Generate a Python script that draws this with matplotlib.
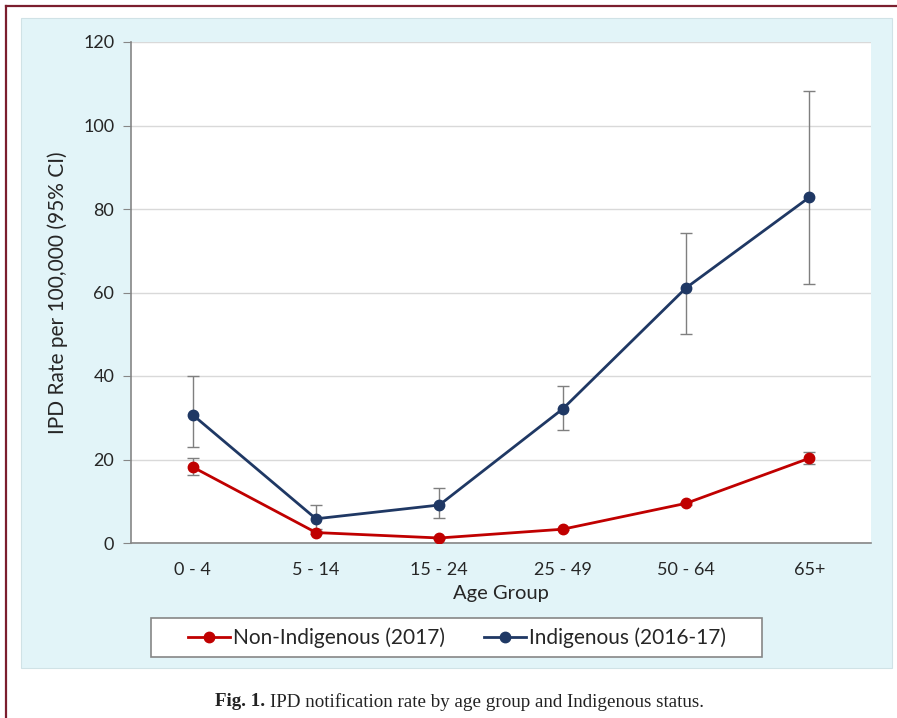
import matplotlib
matplotlib.use("Agg")
import matplotlib.pyplot as plt
from matplotlib.patches import Rectangle
from matplotlib.lines import Line2D

age_groups = ["0 - 4", "5 - 14", "15 - 24", "25 - 49", "50 - 64", "65+"]

indig_rate = [30.7, 5.8, 9.1, 32.1, 61.1, 82.8]
indig_low = [23.0, 3.4, 6.0, 27.1, 50.0, 62.0]
indig_high = [40.0, 9.1, 13.2, 37.6, 74.3, 108.3]

nonindig_rate = [18.2, 2.5, 1.2, 3.3, 9.5, 20.3]
nonindig_low = [16.2, 2.2, 1.0, 3.1, 9.1, 18.9]
nonindig_high = [20.3, 2.8, 1.4, 3.5, 9.9, 21.7]

BLUE = "#1f3864"
RED = "#c00000"
GREY = "#7f7f7f"
TXT = "#262626"
FONT = "Lato"
W, H = 897, 718

fig = plt.figure(figsize=(W / 100, H / 100), dpi=100)

# page frame (top and left rules) and light blue chart panel
fig.add_artist(Line2D([6 / W, 1], [1 - 6 / H, 1 - 6 / H], color="#7b1e2e", lw=1.6))
fig.add_artist(Line2D([6 / W, 6 / W], [0, 1 - 6 / H], color="#7b1e2e", lw=1.6))
fig.add_artist(Rectangle((21 / W, 50 / H), 871 / W, 650 / H, transform=fig.transFigure,
                         facecolor="#e2f4f8", edgecolor="#d0e2e6", lw=0.8, zorder=-2))
# legend box, under the axes so the legend entries sit on top of it
fig.add_artist(Rectangle((151 / W, 1 - 657 / H), 611 / W, 39 / H, transform=fig.transFigure,
                         facecolor="white", edgecolor="#868686", lw=1.2, zorder=-1))

ax = fig.add_axes([131 / W, 175 / H, 740 / W, 501 / H])
ax.set_facecolor("white")
x = list(range(len(age_groups)))

def errs(rate, low, high):
    return [[r - l for r, l in zip(rate, low)], [h - r for r, h in zip(rate, high)]]

ax.errorbar(x, nonindig_rate, yerr=errs(nonindig_rate, nonindig_low, nonindig_high), fmt="none",
            ecolor=GREY, elinewidth=1, capsize=4, capthick=1, zorder=2)
ax.errorbar(x, indig_rate, yerr=errs(indig_rate, indig_low, indig_high), fmt="none",
            ecolor=GREY, elinewidth=1, capsize=4, capthick=1, zorder=2)
ax.plot(x, nonindig_rate, color=RED, lw=2, marker="o", ms=7.5, label="Non-Indigenous (2017)", zorder=3)
ax.plot(x, indig_rate, color=BLUE, lw=2, marker="o", ms=7.5, label="Indigenous (2016-17)", zorder=3)

ax.set_xlim(-0.5, 5.5)
ax.set_ylim(0, 120)
ax.set_yticks(range(0, 121, 20))
ax.set_xticks(x)
ax.set_xticklabels(age_groups)
ax.grid(axis="y", color="#d9d9d9", lw=1)
ax.set_axisbelow(True)
for side in ("top", "right"):
    ax.spines[side].set_visible(False)
for side in ("left", "bottom"):
    ax.spines[side].set_color("#868686")
    ax.spines[side].set_linewidth(1.2)
ax.tick_params(axis="y", length=6, color="#868686", labelsize=13, pad=6)
ax.tick_params(axis="x", length=0, labelsize=13, pad=14)
for lab in ax.get_xticklabels() + ax.get_yticklabels():
    lab.set_family(FONT)
    lab.set_color(TXT)

ax.set_xlabel("Age Group", fontsize=14.5, family=FONT, color=TXT, labelpad=5)
ax.set_ylabel("IPD Rate per 100,000 (95% CI)", fontsize=15, family=FONT, color=TXT, labelpad=11)

leg = ax.legend(loc="center", bbox_to_anchor=(457 / W, 1 - 638 / H), bbox_transform=fig.transFigure,
                ncol=2, frameon=False, handlelength=2.0, handletextpad=0.15, columnspacing=1.9,
                prop={"family": FONT, "size": 15})
for t in leg.get_texts():
    t.set_color(TXT)

fig.text(215 / W, 1 - 702 / H, "Fig. 1.", ha="left", va="center", fontsize=13.7,
         family="Liberation Serif", weight="bold", color="#222222")
fig.text(270 / W, 1 - 702 / H, "IPD notification rate by age group and Indigenous status.",
         ha="left", va="center", fontsize=13.7, family="Liberation Serif", color="#222222")

fig.savefig("out.png", dpi=100)
